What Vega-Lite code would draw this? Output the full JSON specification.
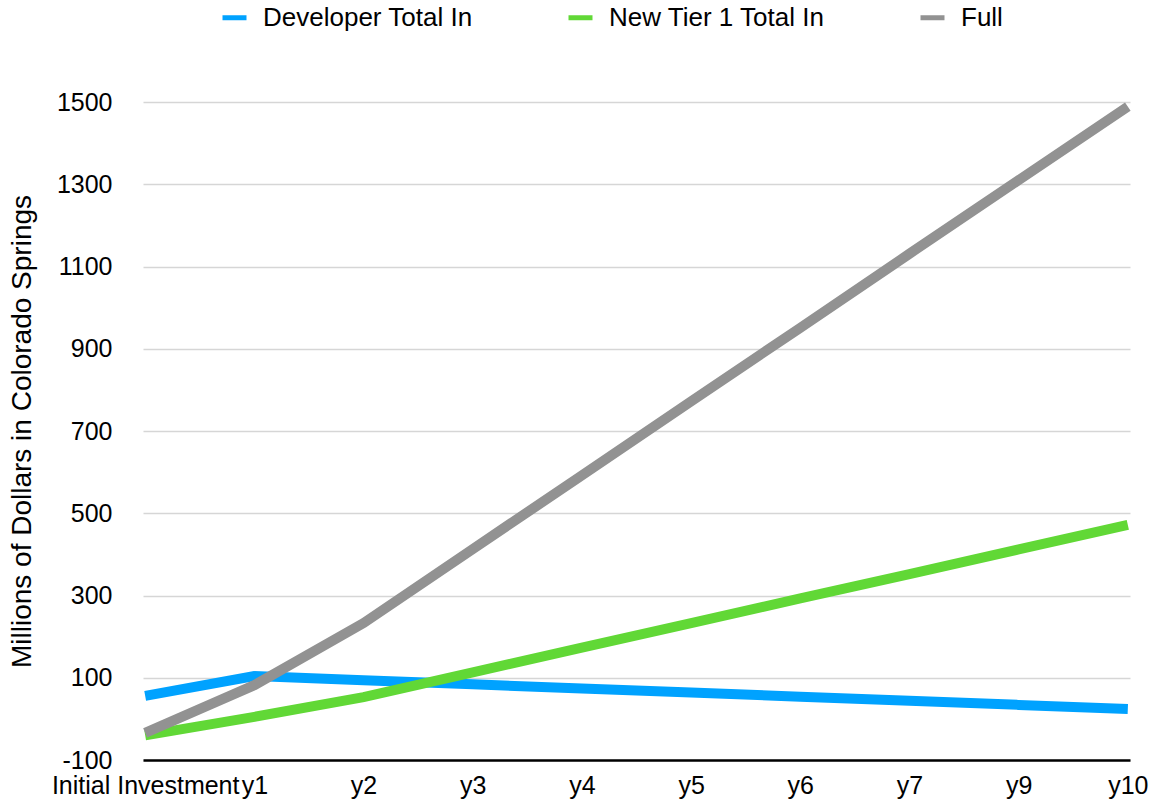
{
  "$schema": "https://vega.github.io/schema/vega-lite/v6.json",
  "autosize": "none",
  "padding": {"left": 143, "top": 102, "right": 23, "bottom": 43},
  "width": 987,
  "height": 658,
  "background": "white",
  "config": {
    "font": "Liberation Sans",
    "view": {"stroke": null}
  },
  "data": {
    "values": [
      {"year": "Initial Investment", "series": "Developer Total In", "value": 56},
      {"year": "y1", "series": "Developer Total In", "value": 104},
      {"year": "y2", "series": "Developer Total In", "value": 94},
      {"year": "y3", "series": "Developer Total In", "value": 84},
      {"year": "y4", "series": "Developer Total In", "value": 74},
      {"year": "y5", "series": "Developer Total In", "value": 64},
      {"year": "y6", "series": "Developer Total In", "value": 54},
      {"year": "y7", "series": "Developer Total In", "value": 44},
      {"year": "y9", "series": "Developer Total In", "value": 34},
      {"year": "y10", "series": "Developer Total In", "value": 24},
      {"year": "Initial Investment", "series": "New Tier 1 Total In", "value": -40},
      {"year": "y1", "series": "New Tier 1 Total In", "value": 5},
      {"year": "y2", "series": "New Tier 1 Total In", "value": 53},
      {"year": "y3", "series": "New Tier 1 Total In", "value": 113},
      {"year": "y4", "series": "New Tier 1 Total In", "value": 173},
      {"year": "y5", "series": "New Tier 1 Total In", "value": 233},
      {"year": "y6", "series": "New Tier 1 Total In", "value": 293},
      {"year": "y7", "series": "New Tier 1 Total In", "value": 352},
      {"year": "y9", "series": "New Tier 1 Total In", "value": 412},
      {"year": "y10", "series": "New Tier 1 Total In", "value": 472},
      {"year": "Initial Investment", "series": "Full", "value": -34},
      {"year": "y1", "series": "Full", "value": 82},
      {"year": "y2", "series": "Full", "value": 233},
      {"year": "y3", "series": "Full", "value": 413},
      {"year": "y4", "series": "Full", "value": 592},
      {"year": "y5", "series": "Full", "value": 772},
      {"year": "y6", "series": "Full", "value": 951},
      {"year": "y7", "series": "Full", "value": 1131},
      {"year": "y9", "series": "Full", "value": 1310},
      {"year": "y10", "series": "Full", "value": 1489}
    ]
  },
  "mark": {"type": "line", "strokeWidth": 10, "strokeCap": "butt"},
  "encoding": {
    "x": {
      "field": "year",
      "type": "ordinal",
      "sort": ["Initial Investment", "y1", "y2", "y3", "y4", "y5", "y6", "y7", "y9", "y10"],
      "scale": {"type": "point", "padding": 0.02},
      "axis": {
        "title": null,
        "labelAngle": 0,
        "labelFontSize": 25,
        "labelColor": "black",
        "labelPadding": 13,
        "labelLimit": 400,
        "ticks": false,
        "domainColor": "black",
        "domainWidth": 2.5,
        "grid": false,
        "labelOverlap": false
      }
    },
    "y": {
      "field": "value",
      "type": "quantitative",
      "scale": {"domain": [-100, 1500], "nice": false, "zero": false},
      "axis": {
        "title": "Millions of Dollars in Colorado Springs",
        "titleFontSize": 28,
        "titleFontWeight": "normal",
        "titleColor": "black",
        "titlePadding": 20,
        "values": [-100, 100, 300, 500, 700, 900, 1100, 1300, 1500],
        "labelExpr": "'' + datum.value",
        "labelFontSize": 25,
        "labelColor": "black",
        "labelPadding": 31,
        "ticks": false,
        "domain": false,
        "gridColor": "#d6d6d6",
        "gridWidth": 1.5
      }
    },
    "color": {
      "field": "series",
      "type": "nominal",
      "scale": {
        "domain": ["Developer Total In", "New Tier 1 Total In", "Full"],
        "range": ["#00A2FF", "#61D836", "#929292"]
      },
      "legend": {
        "title": null,
        "orient": "none",
        "direction": "horizontal",
        "legendX": 77,
        "legendY": -99,
        "symbolType": "stroke",
        "symbolSize": 576,
        "symbolStrokeWidth": 5,
        "labelFontSize": 26,
        "labelColor": "black",
        "labelOffset": 14,
        "columnPadding": 85,
        "labelLimit": 400
      }
    }
  }
}
